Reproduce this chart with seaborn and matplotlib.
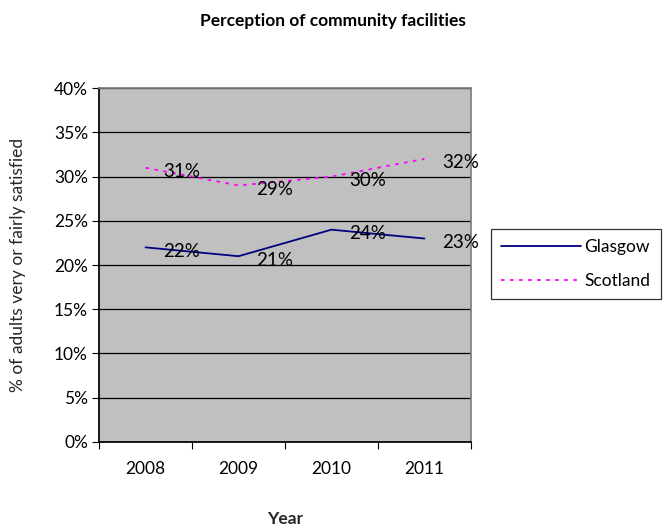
import numpy as np
import pandas as pd
import matplotlib
matplotlib.use("Agg")
import matplotlib.pyplot as plt
import seaborn as sns
from matplotlib.ticker import FixedLocator, PercentFormatter
from matplotlib.lines import Line2D

# data
years = ["2008", "2009", "2010", "2011"]
glasgow = [22, 21, 24, 23]
scotland = [31, 29, 30, 32]
series_names = ["Glasgow", "Scotland"]

sns.set_theme(style="white")
plt.rcParams["font.family"] = ["Lato", "DejaVu Sans"]
plt.rcParams["text.color"] = "black"
plt.rcParams["xtick.color"] = "black"
plt.rcParams["ytick.color"] = "black"

df = pd.DataFrame({
    "Year": years * 2,
    "pos": list(range(len(years))) * 2,
    "value": glasgow + scotland,
    "Area": [series_names[0]] * len(years) + [series_names[1]] * len(years),
})

fig = plt.figure(figsize=(6.65, 5.28), dpi=100)
ax = fig.add_axes([0.149, 0.163, 0.559, 0.670])
ax.set_facecolor("#C0C0C0")

sns.lineplot(data=df, x="pos", y="value", hue="Area", style="Area",
             palette={"Glasgow": "#000080", "Scotland": "#FF00FF"},
             dashes={"Glasgow": "", "Scotland": (2, 3)},
             linewidth=1.3, ax=ax, legend=False)

# data labels
for vals in (glasgow, scotland):
    for i, v in enumerate(vals):
        ax.annotate(f"{v}%", (i, v), xytext=(18, -4), textcoords="offset pixels",
                    ha="left", va="center", fontsize=13.5, color="black")

ax.set_ylim(0, 40)
ax.set_xlim(-0.5, len(years) - 0.5)
ax.yaxis.set_major_locator(FixedLocator(np.arange(0, 41, 5)))
ax.yaxis.set_major_formatter(PercentFormatter(decimals=0))
ax.grid(axis="y", color="black", linewidth=0.9)
ax.set_axisbelow(True)

# category ticks between years, labels centered
ax.set_xticks(np.arange(-0.5, len(years), 1))
ax.set_xticklabels([""] * (len(years) + 1))
ax.set_xticks(range(len(years)), minor=True)
ax.set_xticklabels(years, minor=True)
ax.tick_params(axis="x", which="major", bottom=True, direction="out", length=5, width=0.8, color="black")
ax.tick_params(axis="x", which="minor", bottom=True, length=0, pad=14, labelsize=12.5)
ax.tick_params(axis="y", left=True, direction="out", length=5, width=0.8, color="black", labelsize=12.5, pad=3)

for side in ["top", "right"]:
    ax.spines[side].set_color("#808080")
for side in ["left", "bottom"]:
    ax.spines[side].set_color("black")

ax.set_xlabel("Year", fontsize=12.5, fontweight="bold", labelpad=24)
ax.set_ylabel("% of adults very or fairly satisfied", fontsize=12.5, labelpad=20)
fig.suptitle("Perception of community facilities", fontsize=12.5, fontweight="bold", y=0.975)

handles = [Line2D([], [], color="#000080", lw=1.3),
           Line2D([], [], color="#FF00FF", lw=1.3, ls=(0, (2, 3)))]
leg = fig.legend(handles, series_names, loc="center left", bbox_to_anchor=(0.738, 0.50),
                 borderaxespad=0, frameon=True, fancybox=False, edgecolor="black", fontsize=12.5,
                 handlelength=4.6, handletextpad=0.2, borderpad=0.6, labelspacing=1.0)
leg.get_frame().set_linewidth(0.9)

fig.savefig("out.png", dpi=100)
